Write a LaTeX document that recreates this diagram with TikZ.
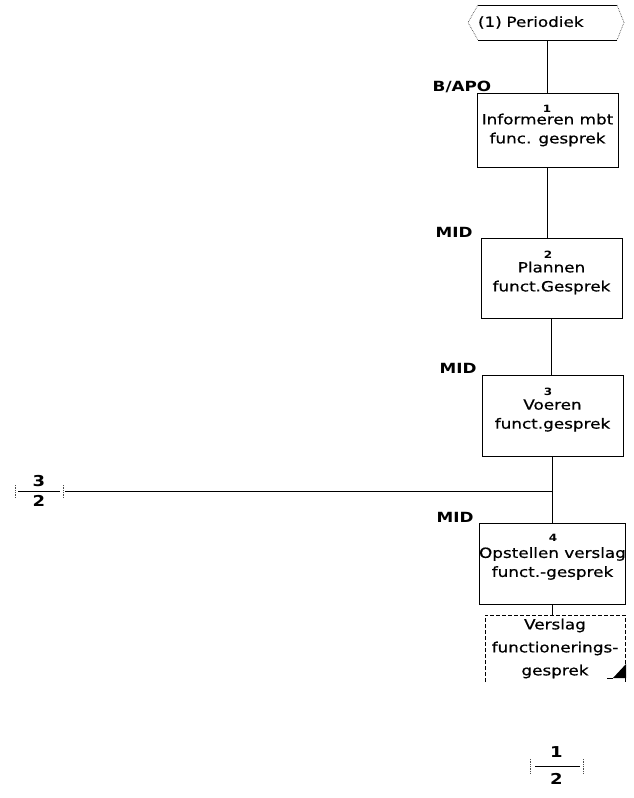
\documentclass[tikz,border=0pt]{standalone}
\usepackage{fontspec}
\setmainfont{DejaVu Sans}[FakeStretch=1.2, UprightFeatures={FakeBold=0.6}]
\begin{document}
\begin{tikzpicture}[x=1pt,y=-1pt,
  every node/.style={inner sep=0pt, outer sep=0pt},
  boxfont/.style={font=\fontsize{14}{19}\selectfont},
  func/.style={draw, line width=0.9pt, minimum width=141pt, minimum height=80pt,
    align=center, boxfont},
  role/.style={font=\bfseries\fontsize{14}{16}\selectfont, anchor=base},
  num/.style={font=\bfseries\fontsize{10}{10}\selectfont},
  flow/.style={line width=0.9pt},
  faint/.style={line width=0.7pt, densely dotted, black!70},
  docline/.style={line width=0.8pt, dash pattern=on 4pt off 2pt},
  offpage/.style={align=center, font=\bfseries\fontsize{15}{20}\selectfont}]
\useasboundingbox (0,0) rectangle (634,798);

% start event
\node[minimum width=139pt, minimum height=35pt, text width=139pt, align=left,
  boxfont] (ev) at (547.5,22.5) {(1) Periodiek};
\draw[flow] (ev.north west) -- (ev.north east);
\draw[flow] (ev.south west) -- (ev.south east);
\draw[faint] (ev.north east) -- ([xshift=7pt]ev.east) -- (ev.south east);
\draw[faint] (ev.north west) -- ([xshift=-10pt]ev.west) -- (ev.south west);

% functions
\node[func, minimum height=74pt] (f1) at (547.5,130) {Informeren mbt\\func. gesprek};
\node[func] (f2) at (551.5,278) {Plannen\\funct.Gesprek};
\node[func, minimum height=81pt] (f3) at (552.5,415.5) {Voeren\\funct.gesprek};
\node[func, minimum width=139pt, minimum height=81pt] (f4) at (552.5,563.5)
  {Opstellen verslag\\funct.-gesprek};

% step numbers
\node[num] (n1) at (547,109) {1};
\node[num] (n2) at (548,255) {2};
\node[num] (n3) at (548,392) {3};
\node[num] (n4) at (553,538) {4};

% roles
\node[role] (r1) at (462,91) {B/APO};
\node[role] (r2) at (454,237) {MID};
\node[role] (r3) at (458,373) {MID};
\node[role] (r4) at (455,522) {MID};

% output document
\node[minimum width=140pt, minimum height=67pt, align=center,
  font=\fontsize{14}{23}\selectfont] (doc) at (555,648.5)
  {Verslag\\functionerings-\\gesprek};
\draw[docline] (doc.south west) -- (doc.north west) -- (doc.north east) -- (doc.south east);
\draw[flow] ([shift={(-18,-4)}]doc.south east) -- ([shift={(-12,-4)}]doc.south east);
\fill ([shift={(-12,-4)}]doc.south east) -- ([shift={(1,-4)}]doc.south east)
  -- ([shift={(1,-18)}]doc.south east) -- cycle;

% off-page connectors
\node[offpage, minimum width=48pt] (c3) at (39,491) {3\\2};
\draw[flow] ([xshift=3pt]c3.west) -- ([xshift=-3pt]c3.east);
\draw[faint] ([yshift=6pt]c3.west) -- ([yshift=-6pt]c3.west);
\draw[faint] ([yshift=6pt]c3.east) -- ([yshift=-6pt]c3.east);

\node[offpage, minimum width=53pt, font=\bfseries\fontsize{15}{27}\selectfont]
  (c1) at (556.5,766) {1\\2};
\draw[flow] ([xshift=5pt]c1.west) -- ([xshift=-3pt]c1.east);
\draw[faint] ([yshift=7pt]c1.west) -- ([yshift=-7pt]c1.west);
\draw[faint] ([yshift=7pt]c1.east) -- ([yshift=-7pt]c1.east);

% flow connections
\draw[flow] (ev.south) -- (f1.north);
\draw[flow] (f1.south) -- (f1.south |- f2.north);
\draw[flow] (f2.south) -- (f2.south |- f3.north);
\draw[flow] (f3.south) -- (f3.south |- f4.north);
\coordinate (j) at (f3.south |- c3.east);
\draw[flow] ([xshift=2pt]c3.east) -- (j);
\draw[flow] (f4.south) -- (f4.south |- doc.north);
\end{tikzpicture}
\end{document}
